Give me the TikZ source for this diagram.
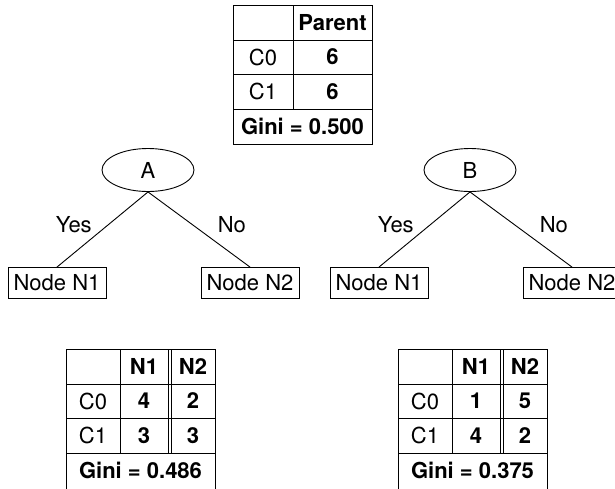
\documentclass[tikz,border=0pt]{standalone}
\usepackage{fontspec}
\setmainfont{TeX Gyre Heros}
\usetikzlibrary{shapes.geometric}
\begin{document}
\begin{tikzpicture}[x=1pt,y=-1pt,line width=0.9pt,
        font=\fontsize{22}{26}\selectfont,
        split/.style={draw,ellipse,minimum width=92pt,minimum height=43pt,inner sep=0pt},
        leaf/.style={draw,rectangle,minimum width=98pt,minimum height=31pt,inner sep=0pt},
        val/.style={font=\fontsize{22}{26}\selectfont\bfseries}]
    \def\treeOffset{322}
    \def\tableOffset{332}
    \useasboundingbox (0,0) rectangle (615,488);
    \clip (0,0) rectangle (615,488);

    \draw (233,5) rectangle (372,144);
    \draw (233,40) -- (372,40) (233,74) -- (372,74) (233,109) -- (372,109);
    \draw (293,5) -- (293,109);
    \node[val] (parentHead) at (332.5,22.5) {Parent};
    \node (pc0) at (263,57) {C0};
    \node[val] (pv0) at (332.5,57) {6};
    \node (pc1) at (263,91.5) {C1};
    \node[val] (pv1) at (332.5,91.5) {6};
    \node[val] (pgini) at (302.5,126.5) {Gini = 0.500};

    \foreach \i/\attr in {0/A,1/B} {
        \begin{scope}[shift={(\i*\treeOffset,0)}]
            \node[split] (attr\i) at (148,170) {\attr};
            \node[leaf] (left\i) at (57,283) {Node N1};
            \node[leaf] (right\i) at (250,283) {Node N2};
            \draw (attr\i.south) -- node[anchor=east,xshift=-7pt,yshift=5pt] (yes\i) {Yes} (left\i.north);
            \draw (attr\i.south) -- node[anchor=west,xshift=15pt,yshift=5pt] (no\i) {No} (right\i.north);
        \end{scope}
    }

    \foreach \i/\a/\b/\c/\d/\g in {0/4/2/3/3/0.486,1/1/5/4/2/0.375} {
        \begin{scope}[shift={(\i*\tableOffset,0)}]
            \draw (66,349) rectangle (215,500);
            \draw (66,384) -- (215,384) (66,418) -- (215,418) (66,453) -- (215,453);
            \draw (120,349) -- (120,453) (168,349) -- (168,453) (171,349) -- (171,453);
            \node[val] (hn1\i) at (144,366.5) {N1};
            \node[val] (hn2\i) at (193,366.5) {N2};
            \node (c0\i) at (93,401) {C0};
            \node[val] (a\i) at (144,401) {\a};
            \node[val] (b\i) at (193,401) {\b};
            \node (c1\i) at (93,435.5) {C1};
            \node[val] (c\i) at (144,435.5) {\c};
            \node[val] (d\i) at (193,435.5) {\d};
            \node[val] (gini\i) at (140.5,470.5) {Gini = \g};
        \end{scope}
    }
\end{tikzpicture}
\end{document}
